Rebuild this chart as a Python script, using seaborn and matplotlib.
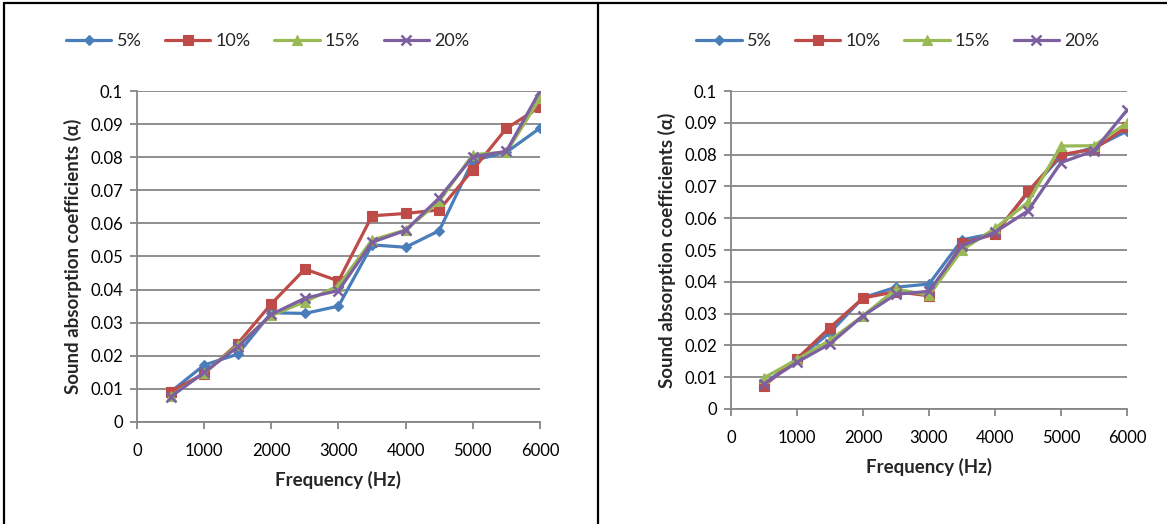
import pandas as pd
import matplotlib
matplotlib.use("Agg")
import matplotlib.pyplot as plt
import seaborn as sns
from matplotlib.lines import Line2D
from matplotlib.ticker import FuncFormatter, MultipleLocator

freq = [500, 1000, 1500, 2000, 2500, 3000, 3500, 4000, 4500, 5000, 5500, 6000]
labels = ["5%", "10%", "15%", "20%"]

# left chart
left_5 = [0.0091, 0.0172, 0.0205, 0.0330, 0.0328, 0.0350, 0.0535, 0.0528, 0.0578, 0.0790, 0.0815, 0.0888]
left_10 = [0.0092, 0.0146, 0.0237, 0.0357, 0.0462, 0.0426, 0.0623, 0.0630, 0.0641, 0.0762, 0.0887, 0.0952]
left_15 = [0.0078, 0.0148, 0.0232, 0.0322, 0.0363, 0.0412, 0.0550, 0.0580, 0.0667, 0.0808, 0.0815, 0.0978]
left_20 = [0.0076, 0.0150, 0.0227, 0.0325, 0.0374, 0.0397, 0.0543, 0.0579, 0.0677, 0.0801, 0.0818, 0.1000]

# right chart
right_5 = [0.0078, 0.0158, 0.0240, 0.0350, 0.0383, 0.0393, 0.0532, 0.0553, 0.0680, 0.0794, 0.0822, 0.0874]
right_10 = [0.0073, 0.0158, 0.0256, 0.0349, 0.0369, 0.0356, 0.0521, 0.0550, 0.0684, 0.0800, 0.0817, 0.0888]
right_15 = [0.0098, 0.0156, 0.0216, 0.0293, 0.0377, 0.0358, 0.0500, 0.0568, 0.0650, 0.0827, 0.0828, 0.0900]
right_20 = [0.0079, 0.0147, 0.0205, 0.0293, 0.0361, 0.0370, 0.0513, 0.0556, 0.0623, 0.0775, 0.0812, 0.0940]

colors = ["#4A7EBB", "#BE4B48", "#98B954", "#7D60A0"]
markers = ["D", "s", "^", "X"]


def to_long(series_list):
    rows = []
    for lab, vals in zip(labels, series_list):
        for f, v in zip(freq, vals):
            rows.append({"Frequency": f, "Alpha": v, "Mix": lab})
    return pd.DataFrame(rows)


def style_marker(line, m, c):
    line.set_markeredgecolor(c)
    line.set_markerfacecolor(c)
    if m == "D":
        line.set_markersize(5.5)
        line.set_markeredgewidth(0.8)
    elif m == "X":
        line.set_marker("x")
        line.set_markersize(7)
        line.set_markeredgewidth(1.8)
    else:
        line.set_markersize(7.5)
        line.set_markeredgewidth(0.8)


sns.set_style("white")
plt.rcParams["font.family"] = ["Lato", "DejaVu Sans"]

fig = plt.figure(figsize=(11.67, 5.24), dpi=100)
ax_l = fig.add_axes([0.1174, 0.1947, 0.3453, 0.6316])
ax_r = fig.add_axes([0.6264, 0.2195, 0.3393, 0.6068])

grey = "#868686"

for ax, data, legend_x in [(ax_l, [left_5, left_10, left_15, left_20], 0.2295),
                           (ax_r, [right_5, right_10, right_15, right_20], 0.7694)]:
    df = to_long(data)
    sns.lineplot(data=df, x="Frequency", y="Alpha", hue="Mix", style="Mix",
                 palette=colors, markers=markers, dashes=False, ax=ax,
                 linewidth=2.3, legend=True)
    for line, m, c in zip(ax.lines, markers, colors):
        style_marker(line, m, c)
    ax.set_xlim(0, 6000)
    ax.set_ylim(0, 0.1)
    ax.xaxis.set_major_locator(MultipleLocator(1000))
    ax.yaxis.set_major_locator(MultipleLocator(0.01))
    ax.yaxis.set_major_formatter(FuncFormatter(lambda v, p: "0" if abs(v) < 1e-9 else f"{v:.2f}".rstrip("0")))
    ax.grid(axis="y", color=grey, linewidth=1.3)
    ax.set_axisbelow(True)
    for s in ["top", "right"]:
        ax.spines[s].set_visible(False)
    for s in ["left", "bottom"]:
        ax.spines[s].set_color(grey)
        ax.spines[s].set_linewidth(1.3)
    ax.tick_params(axis="both", direction="out", length=5, width=1.3, color=grey,
                   labelsize=12, labelcolor="black", pad=5)
    ax.tick_params(axis="y", left=True)
    ax.tick_params(axis="x", bottom=True, pad=10)
    ax.set_xlabel("Frequency (Hz)", fontsize=13.5, fontweight="bold", labelpad=9)
    ax.set_ylabel("Sound absorption coefficients (α)", fontsize=13.5, fontweight="bold", labelpad=6)
    ax.legend_.remove()
    leg_handles = []
    for c, m in zip(colors, markers):
        h = Line2D([0], [0], color=c, marker=m, linewidth=2.3)
        style_marker(h, m, c)
        leg_handles.append(h)
    fig.legend(leg_handles, labels, loc="center", bbox_to_anchor=(legend_x, 0.922),
               ncol=4, frameon=False, fontsize=13, handlelength=2.5,
               handletextpad=0.3, columnspacing=1.3)

# panel borders
fig.add_artist(Line2D([0.0034, 0.0034], [0, 0.994], color="black", linewidth=1.6, transform=fig.transFigure))
fig.add_artist(Line2D([0.0034, 1.0], [0.994, 0.994], color="black", linewidth=1.6, transform=fig.transFigure))
fig.add_artist(Line2D([0.5124, 0.5124], [0, 0.994], color="black", linewidth=1.6, transform=fig.transFigure))

fig.savefig("out.png", dpi=100)
plt.close(fig)
